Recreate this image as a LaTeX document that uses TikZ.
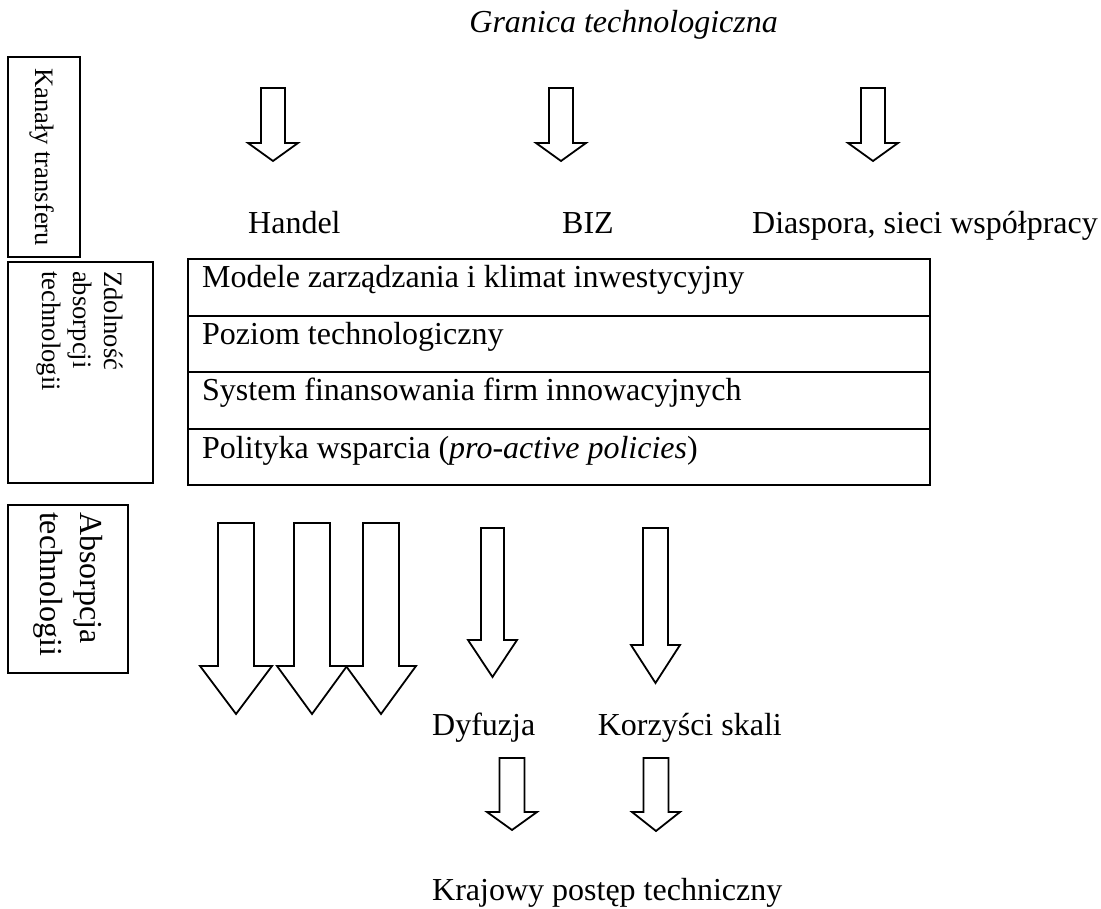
\documentclass[tikz,border=0pt]{standalone}
\usepackage{fontspec}
\setmainfont{Liberation Serif}
% block arrow: name, centre x, top y, half shaft, head y, half head, tip y
\newcommand\blkarrow[7]{%
  \path[barrow] (#2-#4,#3) coordinate (#1) -- (#2+#4,#3) -- (#2+#4,#5) -- (#2+#6,#5)
    -- (#2,#7) -- (#2-#6,#5) -- (#2-#4,#5) -- cycle;}
\begin{document}
\begin{tikzpicture}[x=1pt,y=-1pt,
  lbl/.style={inner sep=0pt, font=\fontsize{32}{38}\selectfont},
  celltxt/.style={inner sep=0pt, anchor=base west, font=\fontsize{32}{38}\selectfont},
  cell/.style={draw, line width=2.2pt, minimum width=742pt, inner sep=0pt},
  sidebox/.style={draw, line width=2.2pt, inner sep=0pt},
  sidetxt/.style={rotate=-90, inner sep=0pt, align=left},
  barrow/.style={draw, fill=white, line width=1.8pt, line join=miter}]
\useasboundingbox (0,0) rectangle (1101,909);

% title
\node[lbl, anchor=base east, font=\fontsize{32}{38}\selectfont\itshape] (title) at (778,33) {Granica technologiczna};

% left boxes
\node[sidebox, minimum width=72pt, minimum height=200pt] (kbox) at (44,157) {};
\node[sidetxt, font=\fontsize{26.6}{31}\selectfont] (ktxt) at (42,157) {Kanały transferu};
\node[sidebox, minimum width=145pt, minimum height=221pt] (zbox) at (80.5,372.5) {};
\node[sidetxt, font=\fontsize{26.6}{31}\selectfont] (ztxt) at (80,331) {Zdolność\\absorpcji\\technologii};
\node[sidebox, minimum width=120pt, minimum height=168pt] (abox) at (68,589) {};
\node[sidetxt, font=\fontsize{32}{40}\selectfont] (atxt) at (68,584) {Absorpcja\\technologii};

% top arrows
\blkarrow{a1}{273}{88}{12}{143}{25}{161}
\blkarrow{a2}{561}{88}{12}{143}{25}{161}
\blkarrow{a3}{873}{88}{12}{143}{25}{161}

% channel labels
\node[lbl, anchor=base west] (handel) at (248,234) {Handel};
\node[lbl, anchor=base west] (biz) at (562,234) {BIZ};
\node[lbl, anchor=base west] (diasp) at (752,234) {Diaspora, sieci współpracy};

% capacity box rows
\node[cell, minimum height=57pt] (r1) at (559,287.5) {};
\node[cell, minimum height=56pt] (r2) at (559,344) {};
\node[cell, minimum height=57pt] (r3) at (559,400.5) {};
\node[cell, minimum height=56pt] (r4) at (559,457) {};
\node[celltxt] (t1) at (202,288) {Modele zarządzania i klimat inwestycyjny};
\node[celltxt] (t2) at (202,345) {Poziom technologiczny};
\node[celltxt] (t3) at (202,401) {System finansowania firm innowacyjnych};
\node[celltxt] (t4) at (202,458) {Polityka wsparcia (\textit{pro-active policies})};

% absorption arrows
\blkarrow{b1}{236}{523}{18}{666}{36}{714}
\blkarrow{b2}{312}{523}{18}{666}{35}{714}
\blkarrow{b3}{381}{523}{18}{666}{35}{714}
\blkarrow{c1}{492.5}{528}{11.5}{640}{24.5}{677}
\blkarrow{c2}{655.5}{528}{12.5}{645}{24.5}{683}

\node[lbl, anchor=base west] (dyf) at (432,735) {Dyfuzja};
\node[lbl, anchor=base east] (korz) at (782,735) {Korzyści skali};

\blkarrow{d1}{512}{758}{12.5}{812}{25}{830}
\blkarrow{d2}{656}{758}{12.5}{812}{24}{831}

\node[lbl, anchor=base west] (kraj) at (432,900) {Krajowy postęp techniczny};
\end{tikzpicture}
\end{document}
